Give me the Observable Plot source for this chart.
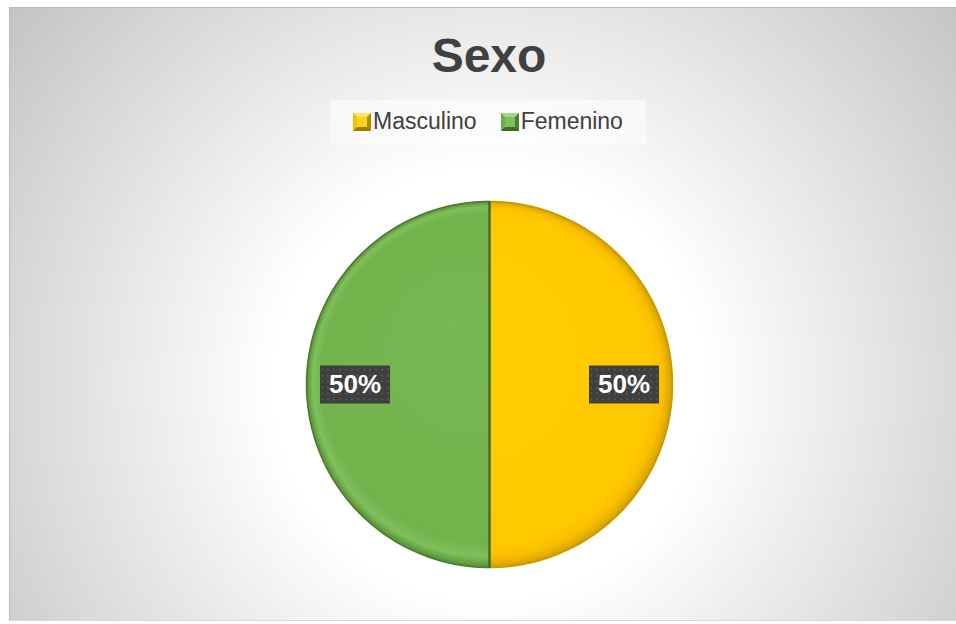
<!DOCTYPE html>
<html><head><meta charset="utf-8">
<script src="https://cdn.jsdelivr.net/npm/d3@7"></script>
<script src="https://cdn.jsdelivr.net/npm/@observablehq/plot@0.6"></script>
<style>
html,body{margin:0;padding:0;background:#fff;width:956px;height:624px;overflow:hidden;}
#chart{position:absolute;left:9px;top:7px;width:959px;height:614px;box-sizing:border-box;
  border-top:1px solid #bcbcbc;border-left:1px solid #bcbcbc;border-bottom:1px solid #d8d8d8;
  background:radial-gradient(circle 620px at 479px 376px,#ffffff 0px,#ffffff 215px,#c2c2c2 620px);
  font-family:"Liberation Sans",Arial,sans-serif;overflow:hidden;}
#title{position:absolute;left:0;width:958px;top:24px;text-align:center;font-weight:bold;font-size:48px;line-height:48px;color:#404040;}
#legend{position:absolute;left:320px;top:92px;width:316px;height:43px;background:rgba(255,255,255,0.5);
  display:flex;align-items:center;justify-content:center;font-size:23px;color:#404040;}
.item{display:flex;align-items:center;}
.item + .item{margin-left:24px;}
.mk{width:18px;height:18px;box-sizing:border-box;border:4px solid;margin-right:2px;}
#plot{position:absolute;left:0;top:142px;}
g[aria-label="label box"]{filter:drop-shadow(3px 4px 3px rgba(0,0,0,0.5));}
</style></head>
<body>
<div id="chart">
  <div id="title"></div>
  <div id="legend"></div>
  <div id="plot"></div>
</div>
<script>
const title = "Sexo";
const categories = ["Masculino", "Femenino"];
const values = [50, 50];

const fills = ["url(#gY)", "url(#gG)"];
const markerStyles = [
  {bg:"#FFD21F", t:"#FFE26A", l:"#F2C200", r:"#B58C00", b:"#9E7A00"},
  {bg:"#7DBF5A", t:"#A5D488", l:"#6DAE4A", r:"#4B7E31", b:"#3E6A28"}
];

document.getElementById("title").textContent = title;
const legend = document.getElementById("legend");
categories.forEach((c, i) => {
  const it = document.createElement("div"); it.className = "item";
  const m = document.createElement("div"); m.className = "mk";
  const s = markerStyles[i];
  m.style.background = s.bg;
  m.style.borderColor = `${s.t} ${s.r} ${s.b} ${s.l}`;
  const t = document.createElement("span"); t.textContent = c;
  it.appendChild(m); it.appendChild(t); legend.appendChild(it);
});

const total = d3.sum(values);
const arcs = d3.pie().sort(null)(values);
const N = 120;
const slices = [];
arcs.forEach((a, i) => {
  slices.push({cat: categories[i], x: 0, y: 0});
  for (let k = 0; k <= N; k++) {
    const t = a.startAngle + (a.endAngle - a.startAngle) * k / N;
    slices.push({cat: categories[i], x: Math.sin(t), y: Math.cos(t)});
  }
  slices.push({cat: categories[i], x: 0, y: 0});
});
const edges = arcs.map(a => ({x: Math.sin(a.startAngle), y: Math.cos(a.startAngle)}));
const labels = arcs.map((a, i) => {
  const m = (a.startAngle + a.endAngle) / 2;
  return {cat: categories[i], x: 0.735 * Math.sin(m), y: 0.735 * Math.cos(m), text: d3.format(".0%")(values[i] / total), box: "box"};
});

const W = 958, H = 471, R = 183, cx = 479, cy = 234;
const boxSymbol = {draw(ctx) { ctx.rect(-35, -19, 70, 38); }};

const plot = Plot.plot({
  width: W, height: H, margin: 0,
  x: {domain: [-cx / R, (W - cx) / R], axis: null},
  y: {domain: [-(H - cy) / R, cy / R], axis: null},
  color: {domain: [...categories, "box"], range: [...fills, "url(#dots)"]},
  style: {background: "transparent", overflow: "visible"},
  marks: [
    Plot.line(slices, {x: "x", y: "y", z: "cat", fill: "cat", stroke: d => d.cat === "Masculino" ? "#C49A00" : "#4A7A2E", strokeWidth: 1.5, strokeLinejoin: "round"}),
    Plot.link(edges, {x1: 0, y1: 0, x2: "x", y2: "y", stroke: "#3F6A28", strokeWidth: 2.2}),
    Plot.dot(labels, {x: "x", y: "y", symbol: boxSymbol, fill: "box", stroke: null, r: 10, ariaLabel: "label box"}),
    Plot.text(labels, {x: "x", y: "y", text: "text", fill: "white", fontSize: 26, fontWeight: "bold", fontFamily: "Liberation Sans, Arial, sans-serif"})
  ]
});

// gradient & pattern definitions, positioned with the plot's scales
const px = plot.scale("x").apply(0), py = plot.scale("y").apply(0);
const ns = "http://www.w3.org/2000/svg";
const defs = document.createElementNS(ns, "defs");
defs.innerHTML = `
<radialGradient id="gY" gradientUnits="userSpaceOnUse" cx="${px}" cy="${py}" r="${R}" fx="${px - 40}" fy="${py - 60}">
  <stop offset="0" stop-color="#FFD000"/><stop offset="0.9" stop-color="#FFC900"/>
  <stop offset="0.955" stop-color="#FAC000"/><stop offset="0.98" stop-color="#E8B000"/><stop offset="1" stop-color="#D09C00"/>
</radialGradient>
<radialGradient id="gG" gradientUnits="userSpaceOnUse" cx="${px}" cy="${py}" r="${R}" fx="${px - 40}" fy="${py - 60}">
  <stop offset="0" stop-color="#78B852"/><stop offset="0.9" stop-color="#73B34C"/>
  <stop offset="0.955" stop-color="#80C05C"/><stop offset="0.98" stop-color="#6AA646"/><stop offset="1" stop-color="#558C36"/>
</radialGradient>
<pattern id="dots" patternUnits="userSpaceOnUse" width="6" height="6">
  <rect width="6" height="6" fill="#3f3f3f"/><rect x="2" y="2" width="2" height="2" fill="#555555"/>
</pattern>`;
plot.insertBefore(defs, plot.firstChild);
document.getElementById("plot").appendChild(plot);
</script>
</body></html>
